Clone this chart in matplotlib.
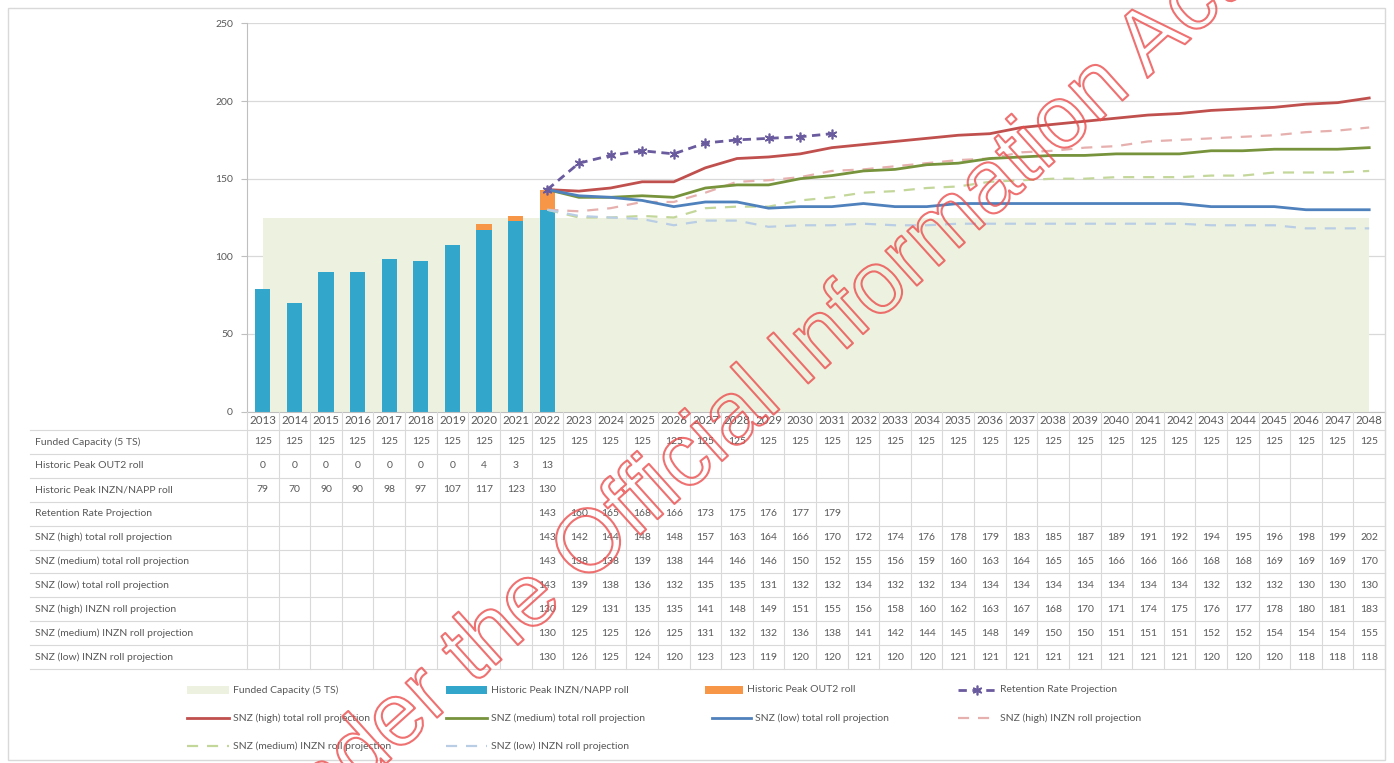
import matplotlib
matplotlib.use("Agg")
import matplotlib.pyplot as plt
import matplotlib.patheffects as pe
from matplotlib.lines import Line2D
from matplotlib.patches import Rectangle
import numpy as np

plt.rcParams['font.family'] = ['Lato', 'DejaVu Sans']

years = [str(y) for y in range(2013, 2049)]
funded = [125] * 36
out2 = [0, 0, 0, 0, 0, 0, 0, 4, 3, 13]
inzn = [79, 70, 90, 90, 98, 97, 107, 117, 123, 130]
retention = [143, 160, 165, 168, 166, 173, 175, 176, 177, 179]
high_total = [143, 142, 144, 148, 148, 157, 163, 164, 166, 170, 172, 174, 176, 178, 179, 183, 185,
              187, 189, 191, 192, 194, 195, 196, 198, 199, 202]
med_total = [143, 138, 138, 139, 138, 144, 146, 146, 150, 152, 155, 156, 159, 160, 163, 164, 165,
             165, 166, 166, 166, 168, 168, 169, 169, 169, 170]
low_total = [143, 139, 138, 136, 132, 135, 135, 131, 132, 132, 134, 132, 132, 134, 134, 134, 134,
             134, 134, 134, 134, 132, 132, 132, 130, 130, 130]
high_inzn = [130, 129, 131, 135, 135, 141, 148, 149, 151, 155, 156, 158, 160, 162, 163, 167, 168,
             170, 171, 174, 175, 176, 177, 178, 180, 181, 183]
med_inzn = [130, 125, 125, 126, 125, 131, 132, 132, 136, 138, 141, 142, 144, 145, 148, 149, 150,
            150, 151, 151, 151, 152, 152, 154, 154, 154, 155]
low_inzn = [130, 126, 125, 124, 120, 123, 123, 119, 120, 120, 121, 120, 120, 121, 121, 121, 121,
            121, 121, 121, 121, 120, 120, 120, 118, 118, 118]

row_labels = ["Funded Capacity (5 TS)", "Historic Peak OUT2 roll", "Historic Peak INZN/NAPP roll",
              "Retention Rate Projection", "SNZ (high) total roll projection",
              "SNZ (medium) total roll projection", "SNZ (low) total roll projection",
              "SNZ (high) INZN roll projection", "SNZ (medium) INZN roll projection",
              "SNZ (low) INZN roll projection"]

C_FUND = '#edf2e0'
C_BLUE = '#33a6cc'
C_ORANGE = '#f79646'
C_RET = '#6a5a9e'
C_HT = '#c0504d'
C_MT = '#77933c'
C_LT = '#4f81bd'
C_HI = '#e6b0ae'
C_MI = '#c4d79b'
C_LI = '#b9cde5'
GRID = '#d9d9d9'
TXT = '#595959'

W, H = 1394, 763
fig = plt.figure(figsize=(W / 100, H / 100), dpi=100)
fig.patch.set_facecolor('white')

L, R = 247, 1385
y0, y250 = 411.5, 23.5
ax = fig.add_axes([L / W, (H - y0) / H, (R - L) / W, (y0 - y250) / H])
ax.set_xlim(-0.5, 35.5)
ax.set_ylim(0, 250)

x_all = np.arange(36)
x_hist = np.arange(10)
x_ret = np.arange(9, 9 + len(retention))
x_proj = np.arange(9, 9 + len(high_total))

ax.fill_between(x_all, 0, funded, color=C_FUND, zorder=1, lw=0)
ax.bar(x_hist, inzn, width=0.48, color=C_BLUE, zorder=2)
ax.bar(x_hist, out2, width=0.48, bottom=inzn, color=C_ORANGE, zorder=2)

ax.plot(x_proj, high_inzn, color=C_HI, lw=1.6, ls=(0, (5, 4)), zorder=3)
ax.plot(x_proj, med_inzn, color=C_MI, lw=1.6, ls=(0, (5, 4)), zorder=3)
ax.plot(x_proj, low_inzn, color=C_LI, lw=1.6, ls=(0, (5, 4)), zorder=3)
ax.plot(x_proj, high_total, color=C_HT, lw=2.0, zorder=4)
ax.plot(x_proj, med_total, color=C_MT, lw=2.0, zorder=4)
ax.plot(x_proj, low_total, color=C_LT, lw=2.0, zorder=4)
ax.plot(x_ret, retention, color=C_RET, lw=2.0, ls=(0, (3, 2)), marker=(6, 2, 0),
        markersize=7, mew=1.2, zorder=5)

ax.set_yticks([0, 50, 100, 150, 200, 250])
ax.set_yticklabels(['0', '50', '100', '150', '200', '250'], fontsize=7.5, color=TXT)
ax.tick_params(axis='y', length=4, color='#bfbfbf', pad=6)
ax.set_xticks([])
ax.grid(axis='y', color=GRID, lw=0.9, zorder=0)
ax.set_axisbelow(True)
for s in ['top', 'right']:
    ax.spines[s].set_visible(False)
ax.spines['left'].set_color('#bfbfbf')
ax.spines['bottom'].set_color('#bfbfbf')

# data table
ytop, ybot = 411.5, 669
tax = fig.add_axes([L / W, (H - ybot) / H, (R - L) / W, (ybot - ytop) / H])
tax.set_xlim(-0.5, 35.5)
tax.set_ylim(ybot, ytop)
tax.axis('off')
colw = (R - L) / 36
xleft = -0.5 + (30 - L) / colw
rowh = 23.9
first_line = 430
for i in range(11):
    yy = first_line + rowh * i
    tax.plot([xleft, 35.5], [yy, yy], color=GRID, lw=0.8, clip_on=False)
for k in range(37):
    tax.plot([-0.5 + k, -0.5 + k], [ytop, ybot], color=GRID, lw=0.8, clip_on=False)
for i, y in enumerate(years):
    tax.text(i, 421, y, ha='center', va='center', fontsize=8.3, color=TXT)

rows = [(funded, 0), (out2, 0), (inzn, 0), (retention, 9), (high_total, 9), (med_total, 9),
        (low_total, 9), (high_inzn, 9), (med_inzn, 9), (low_inzn, 9)]
for r, (vals, start) in enumerate(rows):
    yc = first_line + rowh * (r + 0.5)
    tax.text(xleft + 0.15, yc, row_labels[r], ha='left', va='center', fontsize=7.5,
             color=TXT, clip_on=False)
    for j, v in enumerate(vals):
        tax.text(start + j, yc, str(v), ha='center', va='center', fontsize=7.5, color=TXT)

# legend
def fx(px):
    return px / W

def fy(py):
    return (H - py) / H

legend_items = [
    ('patch', C_FUND, 187, 233, 690, "Funded Capacity (5 TS)"),
    ('patch', C_BLUE, 446, 491, 690, "Historic Peak INZN/NAPP roll"),
    ('patch', C_ORANGE, 705, 747, 690, "Historic Peak OUT2 roll"),
    ('ret', C_RET, 958, 1000, 690, "Retention Rate Projection"),
    ('line', C_HT, 187, 233, 718, "SNZ (high) total roll projection"),
    ('line', C_MT, 446, 491, 718, "SNZ (medium) total roll projection"),
    ('line', C_LT, 712, 755, 718, "SNZ (low) total roll projection"),
    ('dash', C_HI, 958, 1000, 718, "SNZ (high) INZN roll projection"),
    ('dash', C_MI, 187, 233, 746, "SNZ (medium) INZN roll projection"),
    ('dash', C_LI, 446, 491, 746, "SNZ (low) INZN roll projection"),
]
for kind, col, x1, tx, yy, label in legend_items:
    x2 = tx - 4
    if kind == 'patch':
        fig.add_artist(Rectangle((fx(x1), fy(yy + 4)), fx(x2 - x1), 8 / H, facecolor=col,
                                 edgecolor='none', transform=fig.transFigure))
    elif kind == 'line':
        fig.add_artist(Line2D([fx(x1), fx(x2)], [fy(yy), fy(yy)], color=col, lw=2.0,
                              transform=fig.transFigure))
    elif kind == 'dash':
        fig.add_artist(Line2D([fx(x1), fx(x2)], [fy(yy), fy(yy)], color=col, lw=1.6,
                              ls=(0, (5, 4)), transform=fig.transFigure))
    else:
        fig.add_artist(Line2D([fx(x1), fx(x2)], [fy(yy), fy(yy)], color=col, lw=2.0,
                              ls=(0, (3, 2)), transform=fig.transFigure))
        fig.add_artist(Line2D([fx((x1 + x2) / 2)], [fy(yy)], color=col, marker=(6, 2, 0),
                              markersize=7, mew=1.2, transform=fig.transFigure))
    fig.text(fx(tx), fy(yy), label, ha='left', va='center', fontsize=7.5, color=TXT)

# chart border
fig.add_artist(Rectangle((fx(8), fy(760)), fx(1385 - 8), (760 - 8) / H, facecolor='none',
                         edgecolor='#d9d9d9', lw=1.0, transform=fig.transFigure))

# watermark
fig.text(600 / W, (H - 540) / H, "Released under the Official Information Act",
         fontsize=64, family='Liberation Sans', rotation=42, rotation_mode='anchor',
         ha='center', va='center', color=(1, 1, 1, 0), zorder=10,
         path_effects=[pe.withStroke(linewidth=1.5, foreground=(0.92, 0.3, 0.3, 0.8))])

fig.savefig('out.png', dpi=100)
